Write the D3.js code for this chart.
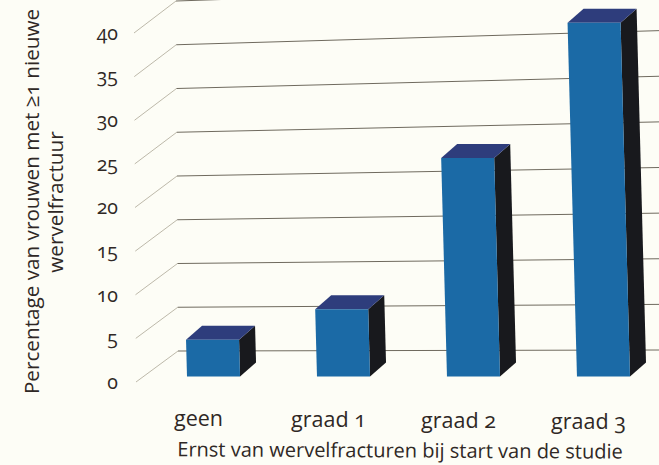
<!DOCTYPE html>
<html><head><meta charset="utf-8">
<script src="https://cdn.jsdelivr.net/npm/d3@7/dist/d3.min.js"></script>
<style>
html,body{margin:0;padding:0;background:#fdfdf6}
svg{display:block}
text{font-family:"Open Sans","Noto Sans",sans-serif;fill:#2f2825;font-variant-numeric:oldstyle-nums;font-feature-settings:"onum"}
</style></head><body>
<div id="chart"></div>
<script>
const categories = ["geen","graad 1","graad 2","graad 3"];
const values = [4.2,7.7,25,40.5];
const yTicks = [0,5,10,15,20,25,30,35,40];
const xTitle = "Ernst van wervelfracturen bij start van de studie";
const yTitle1 = "Percentage van vrouwen met ≥1 nieuwe";
const yTitle2 = "wervelfractuur";

const W=659,H=465;
const svg=d3.select("#chart").append("svg").attr("width",W).attr("height",H);

const yFront=d3.scaleLinear().domain([0,40]).range([382,33]);
const yBack=d3.scaleLinear().domain([0,40]).range([351,1]);
const yRight=d3.scaleLinear().domain([0,40]).range([350,-15]);
const xFront=d3.scaleLinear().domain([0,40]).range([136,134]);
const xBack=d3.scaleLinear().domain([0,40]).range([178,176]);
const x=d3.scaleBand().domain(categories).range([187,630]).paddingInner(0.592);
const yBar=d3.scaleLinear().domain([0,40]).range([376.5,27]);
const lean=d3.scaleLinear().domain([0,40]).range([0,9.3]);

const line=d3.line();
const grid=svg.append("g");
yTicks.forEach(t=>{
  grid.append("path").attr("fill","none").attr("stroke","#bdb9aa").attr("stroke-width",1)
    .attr("d",line([[xFront(t),yFront(t)],[xBack(t),yBack(t)]]));
  grid.append("path").attr("fill","none").attr("stroke","#6f6a5e").attr("stroke-width",1)
    .attr("d",line([[xBack(t),yBack(t)],[W,yRight(t)]]));
});

const axis=d3.axisLeft(yFront).tickValues(yTicks).tickSize(0).tickPadding(0).tickFormat(d3.format("d"));
const ag=svg.append("g").attr("transform","translate(118,0)").call(axis);
ag.select(".domain").remove();
ag.selectAll("text").style("font-size","19.5px").attr("x",0);

const dx=16,dy=14;
const bars=svg.append("g").selectAll("g").data(categories).join("g");
bars.each(function(c,i){
  const v=values[i],g=d3.select(this);
  const x0=x(c),w=x.bandwidth(),s=lean(v);
  const bl=[x0,yBar(0)],br=[x0+w,yBar(0)],tl=[x0-s,yBar(v)],tr=[x0+w-s,yBar(v)];
  const off=p=>[p[0]+dx,p[1]-dy];
  const poly=pts=>line(pts)+"Z";
  g.append("path").attr("d",poly([tr,br,off(br),off(tr)])).attr("fill","#18191d");
  g.append("path").attr("d",poly([tl,tr,off(tr),off(tl)])).attr("fill","#2e3d7c");
  g.append("path").attr("d",poly([bl,br,tr,tl])).attr("fill","#1b6aa6");
});

svg.append("g").selectAll("text").data(categories).join("text")
  .attr("x",c=>x(c)+x.bandwidth()/2-15)
  .attr("y",(c,i)=>426+i*1)
  .attr("text-anchor","middle").style("font-size","21.5px").text(c=>c);

svg.append("text").attr("transform","translate(400,457.5) rotate(0.3)")
  .attr("text-anchor","middle").style("font-size","20px").text(xTitle);
svg.append("text").attr("transform","translate(39,201.5) rotate(-90)")
  .attr("text-anchor","middle").style("font-size","20.7px").text(yTitle1);
svg.append("text").attr("transform","translate(63,202) rotate(-90)")
  .attr("text-anchor","middle").style("font-size","20.7px").text(yTitle2);
</script></body></html>
